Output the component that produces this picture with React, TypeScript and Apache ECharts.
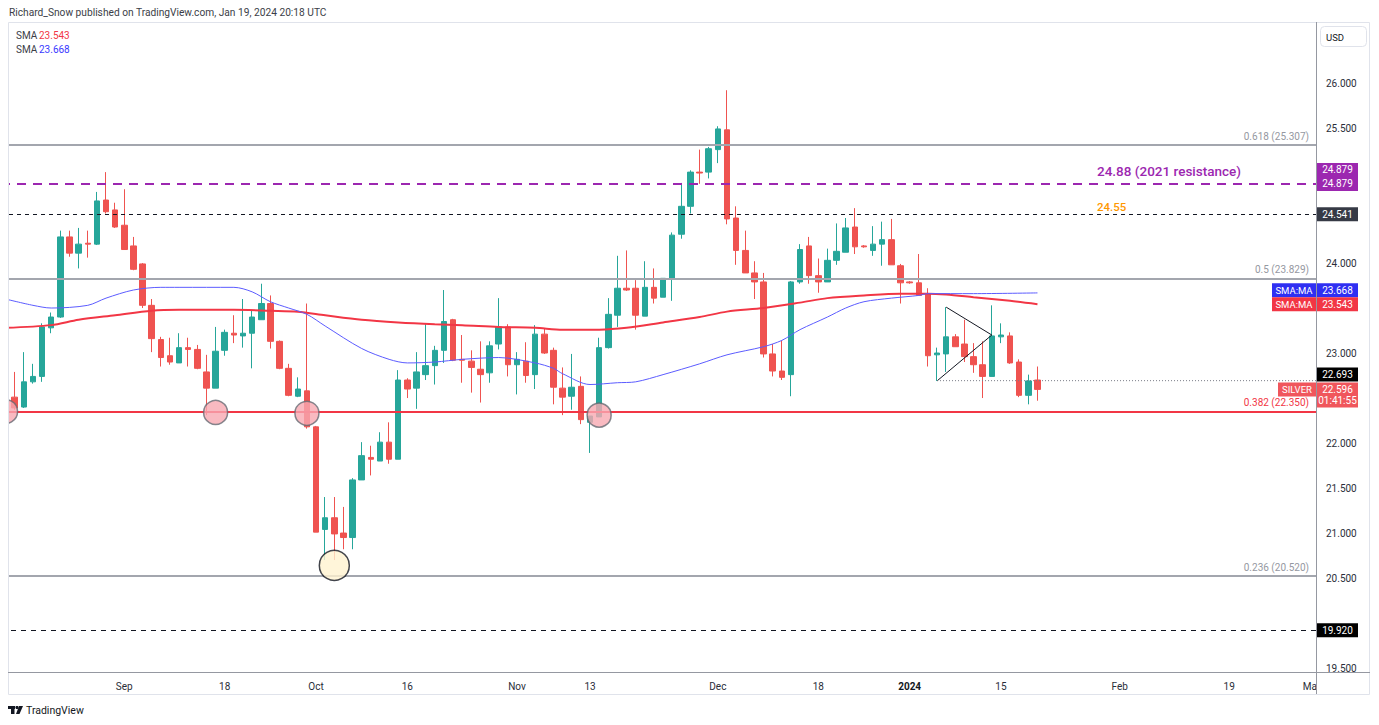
import React, { useEffect, useRef } from "react";
import * as echarts from "echarts";

const FONT = "Roboto, 'Noto Sans', sans-serif";

// ---------- data ----------
const firstDay = "2023-08-15";
const lastDay = "2024-03-01";

const timeLabels: Record<string, string> = {
  "2023-09-01": "Sep",
  "2023-09-18": "18",
  "2023-10-02": "Oct",
  "2023-10-16": "16",
  "2023-11-01": "Nov",
  "2023-11-13": "13",
  "2023-12-01": "Dec",
  "2023-12-18": "18",
  "2024-01-01": "2024",
  "2024-01-15": "15",
  "2024-02-01": "Feb",
  "2024-02-19": "19",
  "2024-03-01": "Mar",
};

// daily candles from 2023-08-15, one per weekday: [open, high, low, close]
const ohlc: number[][] = [
  [22.6, 22.66, 22.35, 22.52],
  [22.51, 22.79, 22.37, 22.39],
  [22.4, 23.01, 22.39, 22.68],
  [22.68, 22.88, 22.66, 22.74],
  [22.74, 23.33, 22.68, 23.29],
  [23.28, 23.45, 23.22, 23.4],
  [23.4, 24.36, 23.39, 24.29],
  [24.29, 24.36, 24.07, 24.11],
  [24.11, 24.39, 23.94, 24.21],
  [24.22, 24.36, 24.06, 24.21],
  [24.21, 24.79, 24.2, 24.69],
  [24.7, 25.01, 24.55, 24.57],
  [24.59, 24.67, 24.39, 24.4],
  [24.42, 24.82, 24.15, 24.15],
  [24.19, 24.29, 23.92, 23.93],
  [23.99, 24.0, 23.5, 23.53],
  [23.53, 23.6, 23.01, 23.16],
  [23.15, 23.18, 22.85, 22.95],
  [22.97, 23.17, 22.87, 22.9],
  [22.89, 23.22, 22.89, 23.06],
  [23.06, 23.17, 22.85, 23.04],
  [23.04, 23.09, 22.82, 22.83],
  [22.79, 22.98, 22.31, 22.61],
  [22.61, 23.29, 22.61, 23.02],
  [23.03, 23.26, 22.97, 23.23],
  [23.22, 23.42, 23.11, 23.2],
  [23.19, 23.6, 23.06, 23.22],
  [23.22, 23.48, 22.83, 23.4],
  [23.37, 23.77, 23.37, 23.55],
  [23.55, 23.64, 23.05, 23.13],
  [23.13, 23.14, 22.82, 22.83],
  [22.83, 22.88, 22.52, 22.53],
  [22.52, 22.73, 22.51, 22.6],
  [22.58, 23.55, 22.16, 22.18],
  [22.18, 22.19, 21.01, 21.01],
  [21.04, 21.4, 20.7, 21.17],
  [21.17, 21.4, 20.7, 20.99],
  [21.0, 21.29, 20.82, 20.95],
  [20.95, 21.61, 20.82, 21.59],
  [21.59, 22.01, 21.59, 21.86],
  [21.84, 21.97, 21.64, 21.82],
  [21.8, 22.12, 21.8, 22.01],
  [22.01, 22.23, 21.77, 21.82],
  [21.82, 22.81, 21.82, 22.7],
  [22.7, 22.72, 22.5, 22.6],
  [22.61, 23.01, 22.38, 22.79],
  [22.76, 23.33, 22.7, 22.86],
  [22.86, 23.08, 22.65, 23.03],
  [23.03, 23.7, 22.89, 23.35],
  [23.37, 23.38, 22.91, 22.92],
  [22.93, 23.2, 22.67, 22.92],
  [22.91, 23.03, 22.56, 22.84],
  [22.82, 23.13, 22.45, 22.76],
  [22.78, 23.13, 22.67, 23.08],
  [23.1, 23.61, 23.04, 23.29],
  [23.29, 23.32, 22.74, 22.87],
  [22.87, 23.01, 22.54, 22.93],
  [22.91, 23.12, 22.67, 22.75],
  [22.76, 23.31, 22.6, 23.21],
  [23.21, 23.27, 22.99, 23.0],
  [23.03, 23.06, 22.43, 22.62],
  [22.61, 22.84, 22.31, 22.51],
  [22.52, 22.99, 22.37, 22.62],
  [22.63, 22.74, 22.21, 22.26],
  [22.23, 22.3, 21.89, 22.3],
  [22.29, 23.17, 22.29, 23.06],
  [23.06, 23.61, 23.05, 23.43],
  [23.42, 24.08, 23.29, 23.72],
  [23.72, 24.14, 23.69, 23.7],
  [23.72, 23.81, 23.26, 23.42],
  [23.41, 24.02, 23.41, 23.73],
  [23.73, 23.94, 23.55, 23.61],
  [23.62, 23.83, 23.62, 23.83],
  [23.82, 24.34, 23.58, 24.31],
  [24.32, 24.89, 24.27, 24.63],
  [24.63, 25.03, 24.55, 25.01],
  [25.01, 25.26, 24.88, 25.0],
  [25.01, 25.29, 24.94, 25.27],
  [25.26, 25.52, 25.11, 25.49],
  [25.48, 25.92, 24.43, 24.49],
  [24.5, 24.63, 23.98, 24.14],
  [24.14, 24.36, 23.89, 23.89],
  [23.89, 24.02, 23.6, 23.79],
  [23.79, 23.89, 22.95, 22.99],
  [22.99, 23.1, 22.74, 22.8],
  [22.8, 23.14, 22.7, 22.73],
  [22.76, 23.8, 22.52, 23.79],
  [23.79, 24.21, 23.77, 24.15],
  [24.19, 24.29, 23.77, 23.86],
  [23.86, 24.05, 23.67, 23.79],
  [23.79, 24.16, 23.79, 24.03],
  [24.03, 24.44, 23.98, 24.13],
  [24.12, 24.5, 24.12, 24.39],
  [24.4, 24.61, 24.1, 24.18],
  [24.19, 24.2, 24.17, 24.18],
  [24.14, 24.41, 24.08, 24.21],
  [24.21, 24.46, 23.97, 24.26],
  [24.26, 24.49, 23.98, 23.98],
  [23.97, 23.99, 23.55, 23.78],
  [23.79, 23.8, 23.77, 23.78],
  [23.78, 24.1, 23.64, 23.64],
  [23.66, 23.72, 22.85, 22.97],
  [22.98, 23.06, 22.69, 23.0],
  [22.99, 23.51, 22.79, 23.18],
  [23.18, 23.21, 23.07, 23.07],
  [23.1, 23.37, 22.9, 22.96],
  [22.96, 23.11, 22.78, 22.87],
  [22.87, 23.13, 22.5, 22.74],
  [22.74, 23.53, 22.74, 23.19],
  [23.18, 23.33, 23.11, 23.2],
  [23.19, 23.23, 22.88, 22.89],
  [22.9, 22.93, 22.51, 22.53],
  [22.53, 22.76, 22.43, 22.69],
  [22.7, 22.85, 22.47, 22.596],
];

// blue SMA
const smaBlue: [string, number][] = [
  ["2023-08-15", 23.6], ["2023-08-18", 23.53], ["2023-08-22", 23.5], ["2023-08-28", 23.53],
  ["2023-08-30", 23.61], ["2023-09-04", 23.7], ["2023-09-07", 23.73], ["2023-09-11", 23.73],
  ["2023-09-19", 23.73], ["2023-09-21", 23.68], ["2023-09-25", 23.57], ["2023-09-27", 23.5],
  ["2023-09-29", 23.43], ["2023-10-03", 23.3], ["2023-10-09", 23.05], ["2023-10-12", 22.93],
  ["2023-10-16", 22.89], ["2023-10-19", 22.9], ["2023-10-24", 22.93], ["2023-10-30", 22.95],
  ["2023-11-03", 22.89], ["2023-11-07", 22.83], ["2023-11-08", 22.77], ["2023-11-13", 22.65],
  ["2023-11-16", 22.67], ["2023-11-20", 22.68], ["2023-11-23", 22.76], ["2023-11-29", 22.88],
  ["2023-12-04", 22.98], ["2023-12-08", 23.07], ["2023-12-12", 23.14], ["2023-12-14", 23.26],
  ["2023-12-19", 23.4], ["2023-12-21", 23.5], ["2023-12-25", 23.57], ["2023-12-28", 23.61],
  ["2024-01-02", 23.64], ["2024-01-03", 23.66], ["2024-01-10", 23.66], ["2024-01-19", 23.668],
];

// red SMA
const smaRed: [string, number][] = [
  ["2023-08-15", 23.28], ["2023-08-22", 23.31], ["2023-08-25", 23.37], ["2023-08-31", 23.42],
  ["2023-09-06", 23.47], ["2023-09-11", 23.48], ["2023-09-19", 23.48], ["2023-09-25", 23.47],
  ["2023-09-28", 23.46], ["2023-10-03", 23.42], ["2023-10-09", 23.37], ["2023-10-13", 23.34],
  ["2023-10-19", 23.32], ["2023-10-24", 23.31], ["2023-10-30", 23.29], ["2023-11-03", 23.28],
  ["2023-11-08", 23.26], ["2023-11-14", 23.26], ["2023-11-17", 23.28], ["2023-11-23", 23.34],
  ["2023-11-29", 23.4], ["2023-12-04", 23.46], ["2023-12-08", 23.5], ["2023-12-14", 23.56],
  ["2023-12-19", 23.61], ["2023-12-25", 23.64], ["2023-12-29", 23.66], ["2024-01-03", 23.66],
  ["2024-01-05", 23.65], ["2024-01-10", 23.62], ["2024-01-16", 23.58], ["2024-01-19", 23.543],
];

const fibValues = [25.307, 23.829, 22.35, 20.52];
const fibRatios = ["0.618", "0.5", "0.382", "0.236"];
const resistanceValue = 24.879;
const resistanceText = "24.88 (2021 resistance)";
const level2455Value = 24.541;
const level2455Text = "24.55";
const lowLevelValue = 19.92;
const prevCloseValue = 22.693;
const prevCloseFrom = "2024-01-04";
const lastPrice = 22.596;
const lastCountdown = "01:41:55";
const smaRedLast = 23.543;
const smaBlueLast = 23.668;

const supportDates = ["2023-08-15", "2023-09-15", "2023-09-29", "2023-11-14"];
const supportValues = [22.35, 22.34, 22.33, 22.31];
const lowMarkDate = "2023-10-04";
const lowMarkValue = 20.64;

const triangleUpper: [string, number][] = [["2024-01-05", 23.51], ["2024-01-12", 23.2]];
const triangleLower: [string, number][] = [["2024-01-04", 22.69], ["2024-01-12", 23.2]];

// price-scale labels left visible (others are hidden behind the price boxes)
const priceTicks = [19.5, 20.5, 21, 21.5, 22, 23, 24, 25.5, 26];

// ---------- categories (weekdays) ----------
const categories: string[] = (() => {
  const out: string[] = [];
  const d = new Date(firstDay + "T00:00:00Z");
  const end = new Date(lastDay + "T00:00:00Z").getTime();
  while (d.getTime() <= end) {
    const wd = d.getUTCDay();
    if (wd !== 0 && wd !== 6) out.push(d.toISOString().slice(0, 10));
    d.setUTCDate(d.getUTCDate() + 1);
  }
  return out;
})();
const ci = (d: string) => categories.indexOf(d);

export default function App() {
  const ref = useRef<HTMLDivElement>(null);

  useEffect(() => {
    document.body.style.margin = "0";
    const chart = echarts.init(ref.current!, null, { renderer: "svg" });

    const option: any = {
      animation: false,
      backgroundColor: "#ffffff",
      grid: { left: 1, right: 63, top: 22, bottom: 53 },
      xAxis: {
        type: "category",
        data: categories,
        boundaryGap: true,
        axisLine: { show: false },
        axisTick: { show: false },
        splitLine: { show: false },
        axisLabel: {
          interval: (_i: number, v: string) => !!timeLabels[v],
          formatter: (v: string) => (timeLabels[v] === "2024" ? "{b|2024}" : timeLabels[v] || ""),
          color: "#2a2e39",
          fontSize: 10,
          fontFamily: FONT,
          margin: 9,
          rich: { b: { fontWeight: "bold", fontSize: 10, fontFamily: FONT, color: "#131722" } },
        },
      },
      yAxis: {
        type: "value",
        position: "right",
        min: 19.456,
        max: 26.678,
        axisLine: { show: false },
        axisTick: { show: false },
        splitLine: { show: false },
        axisLabel: {
          customValues: priceTicks,
          formatter: (v: number) => v.toFixed(3),
          color: "#2a2e39",
          fontSize: 10,
          fontFamily: FONT,
          margin: 10,
        },
      },
      series: [
        {
          type: "candlestick",
          data: ohlc.map(([o, h, l, c]) => [o, c, l, h]),
          barWidth: 6,
          itemStyle: {
            color: "#26a69a",
            color0: "#ef5350",
            borderColor: "#26a69a",
            borderColor0: "#ef5350",
            borderWidth: 1,
          },
          markLine: {
            silent: true,
            symbol: ["none", "none"],
            label: { show: false },
            data: [
              ...fibValues.map((v, i) => ({
                yAxis: v,
                lineStyle: { color: i === 2 ? "#f23645" : "#a3a6ae", width: 2, type: "solid" },
              })),
              { yAxis: resistanceValue, lineStyle: { color: "#9c27b0", width: 2, type: [9, 7] } },
              { yAxis: level2455Value, lineStyle: { color: "#131722", width: 1, type: [4, 4] } },
              { yAxis: lowLevelValue, lineStyle: { color: "#131722", width: 1, type: [5, 5] } },
            ],
          },
        },
        {
          type: "line",
          data: smaRed.map(([d, v]) => [ci(d), v]),
          showSymbol: false,
          smooth: 0.3,
          lineStyle: { color: "#f23645", width: 2 },
          z: 3,
        },
        {
          type: "line",
          data: smaBlue.map(([d, v]) => [ci(d), v]),
          showSymbol: false,
          smooth: 0.3,
          lineStyle: { color: "#5c5cff", width: 1 },
          z: 3,
        },
        {
          type: "line",
          data: triangleUpper.map(([d, v]) => [ci(d), v]),
          showSymbol: false,
          lineStyle: { color: "#131722", width: 1 },
          z: 4,
        },
        {
          type: "line",
          data: triangleLower.map(([d, v]) => [ci(d), v]),
          showSymbol: false,
          lineStyle: { color: "#131722", width: 1 },
          z: 4,
        },
        {
          type: "scatter",
          data: supportDates.map((d, i) => [ci(d), supportValues[i]]),
          symbolSize: 24,
          itemStyle: { color: "#f7a9b1", borderColor: "#666a73", borderWidth: 1.5 },
          z: 5,
        },
        {
          type: "scatter",
          data: [[ci(lowMarkDate), lowMarkValue]],
          symbolSize: 30,
          itemStyle: { color: "#fff2cf", borderColor: "#131722", borderWidth: 1.5 },
          z: 5,
        },
      ],
    };
    chart.setOption(option);

    const py = (v: number) => chart.convertToPixel({ yAxisIndex: 0 }, v) as number;
    const px = (d: string) => chart.convertToPixel({ xAxisIndex: 0 }, ci(d)) as number;

    const Z = 100;
    const text = (x: number, y: number, t: string, fill: string, size: number, align = "left", weight = "normal") => ({
      type: "text",
      x,
      y,
      z: Z + 2,
      style: {
        text: t,
        fill,
        font: `${weight} ${size}px ${FONT}`,
        textAlign: align,
        textVerticalAlign: "middle",
        align,
        verticalAlign: "middle",
      },
    });
    const rect = (x: number, y: number, w: number, h: number, fill: string, r = 0) => ({
      type: "rect",
      z: Z + 1,
      shape: { x, y, width: w, height: h, r },
      style: { fill },
    });
    const line = (x1: number, y1: number, x2: number, y2: number, stroke: string, w = 1, dash?: number[]) => ({
      type: "line",
      z: Z + 1,
      shape: { x1, y1, x2, y2 },
      style: { stroke, lineWidth: w, lineDash: dash },
    });

    const AX = 1317;
    const AW = 41;
    const priceBox = (yc: number, fill: string, t: string) => [
      rect(AX, yc - 7, AW, 14, fill),
      text(AX + AW / 2, yc, t, "#ffffff", 10, "center"),
    ];

    const yRes = py(resistanceValue);
    const y2455 = py(level2455Value);
    const ySmaR = py(smaRedLast);
    const ySmaB = Math.min(py(smaBlueLast), ySmaR - 14);
    const yLast = py(lastPrice);
    const lastTop = yLast - 7;
    const yPrev = lastTop - 8;
    const yLow = py(lowLevelValue);

    const elements: any[] = [
      // left overflow cover
      { type: "rect", z: Z, shape: { x: 0, y: 0, width: 8, height: 725 }, style: { fill: "#ffffff" } },
      // time-axis overflow cover on the price scale
      { type: "rect", z: Z, shape: { x: 1317, y: 673, width: 62, height: 52 }, style: { fill: "#ffffff" } },
      // outer frame
      {
        type: "rect",
        z: Z,
        shape: { x: 8.5, y: 22.5, width: 1361, height: 672 },
        style: { fill: "none", stroke: "#e0e3eb", lineWidth: 1 },
      },
      line(8, 672.5, 1370, 672.5, "#9598a1", 1),
      line(1316.5, 22, 1316.5, 694, "#9598a1", 1),
      // header
      text(9, 12, "Richard_Snow published on TradingView.com, Jan 19, 2024 20:18 UTC", "#3b3e47", 10.2),
      text(16, 35, "SMA", "#3b3e47", 10),
      text(39, 35, smaRedLast.toFixed(3), "#f23645", 10),
      text(16, 49, "SMA", "#3b3e47", 10),
      text(39, 49, smaBlueLast.toFixed(3), "#3a3aff", 10),
      // USD
      {
        type: "rect",
        z: Z,
        shape: { x: 1320.5, y: 26.5, width: 46, height: 20, r: 4 },
        style: { fill: "#ffffff", stroke: "#e0e3eb", lineWidth: 1 },
      },
      text(1326, 37, "USD", "#131722", 9.5),
      // fib labels
      ...fibValues.map((v, i) =>
        text(1309, py(v) - 9, `${fibRatios[i]} (${v.toFixed(3)})`, i === 2 ? "#f23645" : "#9598a1", 10, "right")
      ),
      // annotations
      text(1097, yRes - 13, resistanceText, "#9c27b0", 13.5, "left", "500"),
      text(1097, y2455 - 7, level2455Text, "#ff9800", 11.5, "left", "500"),
      // previous close dotted line
      line(px(prevCloseFrom), py(prevCloseValue), 1316, py(prevCloseValue), "#787b86", 1, [1, 2]),
      // price scale boxes
      ...priceBox(yRes - 14, "#9c27b0", resistanceValue.toFixed(3)),
      ...priceBox(yRes, "#9c27b0", resistanceValue.toFixed(3)),
      ...priceBox(y2455, "#363a45", level2455Value.toFixed(3)),
      ...priceBox(ySmaB, "#2f2ff2", smaBlueLast.toFixed(3)),
      ...priceBox(ySmaR, "#f23645", smaRedLast.toFixed(3)),
      rect(1272, ySmaB - 7, 44, 14, "#2f2ff2"),
      text(1294, ySmaB, "SMA:MA", "#ffffff", 9.5, "center"),
      rect(1272, ySmaR - 7, 44, 14, "#f23645"),
      text(1294, ySmaR, "SMA:MA", "#ffffff", 9.5, "center"),
      ...priceBox(yPrev, "#000000", prevCloseValue.toFixed(3)),
      rect(AX, lastTop, AW, 25, "#f0565c"),
      text(AX + AW / 2, yLast, lastPrice.toFixed(3), "#ffffff", 10, "center"),
      text(AX + AW / 2, yLast + 11, lastCountdown, "#ffffff", 10, "center"),
      rect(1278, lastTop, 38, 14, "#f0565c"),
      text(1297, yLast, "SILVER", "#ffffff", 9.5, "center"),
      ...priceBox(yLow, "#000000", lowLevelValue.toFixed(3)),
      // footer logo
      rect(8, 706, 7, 3, "#131722"),
      rect(11, 706, 3.5, 8, "#131722"),
      { type: "circle", z: Z + 1, shape: { cx: 17, cy: 707.5, r: 1.6 }, style: { fill: "#131722" } },
      {
        type: "polygon",
        z: Z + 1,
        shape: { points: [[19, 706], [23, 706], [19.5, 714], [16, 714]] },
        style: { fill: "#131722" },
      },
      text(26, 710, "TradingView", "#131722", 10.5),
    ];

    chart.setOption({ graphic: { elements } });

    return () => chart.dispose();
  }, []);

  return <div ref={ref} style={{ width: 1379, height: 725 }} />;
}
